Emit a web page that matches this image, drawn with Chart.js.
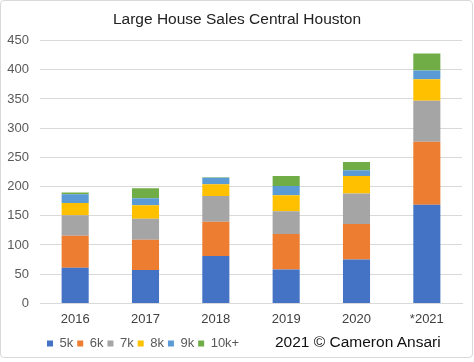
<!DOCTYPE html>
<html>
<head>
<meta charset="utf-8">
<script src="https://cdn.jsdelivr.net/npm/chart.js@4/dist/chart.umd.min.js"></script>
<style>
  html, body { margin: 0; padding: 0; background: #fff; }
  #wrap { position: relative; width: 474px; height: 362px; }
  #frame { position: absolute; left: 0; top: 0; width: 471px; height: 356px; border: 1px solid #d9d9d9; border-radius: 4px; pointer-events: none; }
  #copy { position: absolute; left: 275px; top: 333px; font-family: "Liberation Sans", Arial, sans-serif; font-size: 15.5px; color: #111; white-space: nowrap; }
</style>
</head>
<body>
<div id="wrap">
  <canvas id="c" width="474" height="362"></canvas>
  <div id="frame"></div>
  <div id="copy">2021 © Cameron Ansari</div>
</div>
<script>
const categories = ["2016", "2017", "2018", "2019", "2020", "*2021"];
const sales5k   = [61, 57, 81, 58, 75, 169];
const sales6k   = [55, 52, 59, 61, 61, 108];
const sales7k   = [35, 36, 44, 39, 52, 70];
const sales8k   = [21, 23, 20, 27, 30, 37];
const sales9k   = [15, 12, 11, 16, 10, 15];
const sales10k  = [3, 17, 1, 17, 14, 29];
const seriesNames = ["5k", "6k", "7k", "8k", "9k", "10k+"];
const yTicks = [0, 50, 100, 150, 200, 250, 300, 350, 400, 450];

const colors = ["#4472C4", "#ED7D31", "#A5A5A5", "#FFC000", "#5B9BD5", "#70AD47"];
const seriesData = [sales5k, sales6k, sales7k, sales8k, sales9k, sales10k];

const font = "'Liberation Sans', Arial, sans-serif";

const shiftBlocks = {
  id: "shiftBlocks",
  afterLayout(chart) {
    if (chart.legend) { chart.legend.left += 47 - 4; }
    if (chart.titleBlock) { chart.titleBlock.left += 12; }
  }
};

new Chart(document.getElementById("c"), {
  type: "bar",
  data: {
    labels: categories,
    datasets: seriesNames.map((n, i) => ({
      label: n,
      data: seriesData[i],
      backgroundColor: colors[i],
      borderWidth: 0,
      barPercentage: 0.385,
      categoryPercentage: 1.0
    }))
  },
  plugins: [shiftBlocks],
  options: {
    responsive: false,
    animation: false,
    devicePixelRatio: 1,
    layout: { padding: { left: 0, right: 12, top: 6, bottom: 2 } },
    plugins: {
      title: {
        display: true,
        text: "Large House Sales Central Houston",
        color: "#222",
        font: { family: font, size: 15.5, weight: "normal" },
        padding: { top: 4, bottom: 12 }
      },
      legend: {
        position: "bottom",
        align: "start",
        labels: {
          boxWidth: 6,
          boxHeight: 6,
          padding: 4,
          color: "#595959",
          font: { family: font, size: 13 }
        }
      },
      tooltip: { enabled: false }
    },
    scales: {
      x: {
        stacked: true,
        grid: { display: false },
        border: { display: true, color: "#d9d9d9" },
        afterFit: (axis) => { axis.height += 6; },
        ticks: { color: "#404040", font: { family: font, size: 13 }, padding: 0 }
      },
      y: {
        stacked: true,
        min: 0,
        max: 450,
        afterBuildTicks: (axis) => { axis.ticks = yTicks.map(v => ({ value: v })); },
        afterFit: (axis) => { axis.width = 40; },
        grid: { color: "#d9d9d9", drawTicks: false },
        border: { display: false },
        ticks: { color: "#595959", font: { family: font, size: 13 }, padding: 11 }
      }
    }
  }
});
</script>
</body>
</html>
